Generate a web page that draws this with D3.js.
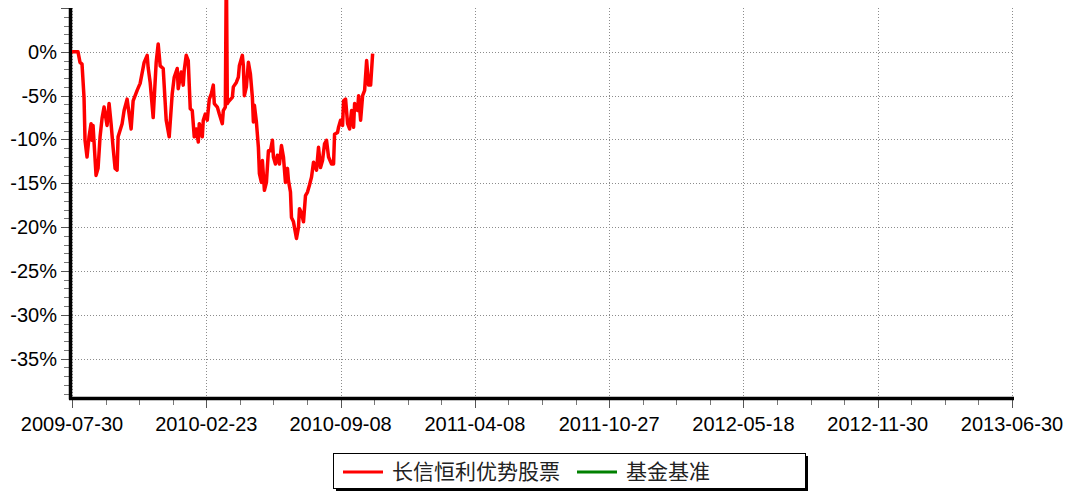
<!DOCTYPE html>
<html>
<head>
<meta charset="utf-8">
<script src="https://cdn.jsdelivr.net/npm/d3@7"></script>
<style>
  body { margin: 0; background: #fff; }
  svg { display: block; }
</style>
</head>
<body>
<script>
const width = 1070;
const height = 492;

// trading-day index since 2009-07-30
const dayIndex = [0, 6, 8, 10, 12, 13, 15, 17, 19, 20, 21, 24, 26, 28, 30, 32, 35, 37, 39, 41,
  43, 45, 46, 50, 52, 55, 57, 59, 61, 65, 68, 72, 75, 76, 78, 81, 84, 86, 88, 91,
  94, 97, 100, 102, 105, 106, 109, 111, 112, 114, 116, 118, 120, 122, 124, 126, 127, 130, 131, 133,
  135, 137, 139, 141, 142, 145, 147, 150, 151, 153, 154, 155, 156, 160, 161, 164, 166, 167, 170, 171,
  172, 174, 176, 178, 180, 181, 182, 184, 186, 187, 189, 190, 192, 194, 196, 198, 200, 201, 203, 205,
  207, 209, 211, 213, 215, 216, 218, 219, 221, 224, 226, 227, 229, 231, 233, 235, 237, 239, 241, 244,
  246, 248, 250, 252, 254, 256, 259, 261, 262, 265, 266, 268, 270, 271, 273, 275, 277, 279, 281, 282,
  285, 286, 288, 290, 292, 294, 296, 298, 300];

// cumulative return, %
const fundReturn = [0, 0, -1.2, -1.4, -5.2, -10.1, -12.0, -9.7, -8.2, -10.1, -8.4, -14.1, -13.3, -9.7, -7.6, -6.3, -8.4, -5.9, -8.2, -10.9,
  -13.3, -13.5, -9.7, -8.2, -6.7, -5.4, -7.1, -8.8, -5.6, -4.4, -3.6, -1.2, -0.4, -1.8, -3.5, -7.5, -1.2, 0.9, -1.6, -1.9,
  -7.8, -9.7, -4.8, -2.9, -1.9, -4.2, -2.3, -3.8, -2.1, -0.4, -1.0, -6.5, -6.7, -9.7, -8.8, -10.3, -8.2, -9.7, -7.8, -7.1,
  -7.8, -5.4, -4.8, -3.8, -5.9, -6.3, -7.1, -8.2, -6.7, -6.3, 10, -5.9, -5.7, -5.2, -4.0, -3.5, -2.9, -1.6, -0.4, -1.6,
  -5.0, -4.0, -1.2, -2.5, -5.2, -8.0, -6.1, -8.0, -10.9, -13.9, -14.9, -12.4, -15.8, -14.9, -11.3, -11.3, -10.1, -12.0, -12.8, -11.8,
  -12.8, -10.7, -12.0, -14.9, -13.3, -14.7, -16.0, -18.9, -19.4, -21.3, -20.0, -17.9, -18.4, -19.4, -16.4, -16.0, -15.2, -14.3, -12.6, -13.5,
  -10.9, -13.2, -12.4, -10.5, -10.1, -12.0, -12.8, -12.8, -9.4, -9.2, -8.6, -7.8, -8.4, -5.6, -5.4, -8.2, -8.8, -6.7, -8.6, -5.9,
  -6.7, -5.0, -7.8, -5.0, -4.4, -1.0, -3.8, -3.8, -0.2];

const xTickLabels = ["2009-07-30", "2010-02-23", "2010-09-08", "2011-04-08", "2011-10-27", "2012-05-18", "2012-11-30", "2013-06-30"];
const yTicks = [0, -5, -10, -15, -20, -25, -30, -35];
const seriesNames = ["长信恒利优势股票", "基金基准"];
const seriesColors = ["#ff0000", "#008000"];

const tickStep = 134;
const x = d3.scaleLinear().domain([0, tickStep * 7]).range([72, 1012]);
const y = d3.scaleLinear().domain([-39.5, 5]).range([398, 8]);

const svg = d3.select("body").append("svg")
  .attr("width", width)
  .attr("height", height)
  .style("font-family", "'Liberation Sans', Arial, sans-serif");

// grid
const grid = svg.append("g")
  .attr("stroke", "#8c8c8c")
  .attr("stroke-width", 1)
  .attr("stroke-dasharray", "1,2");

grid.selectAll("line.h")
  .data(yTicks)
  .join("line")
  .attr("class", "h")
  .attr("x1", x(0)).attr("x2", x(tickStep * 7))
  .attr("y1", d => Math.round(y(d)) + 0.5)
  .attr("y2", d => Math.round(y(d)) + 0.5);

grid.selectAll("line.v")
  .data(xTickLabels)
  .join("line")
  .attr("class", "v")
  .attr("x1", (d, i) => Math.round(x(i * tickStep)) + 0.5)
  .attr("x2", (d, i) => Math.round(x(i * tickStep)) + 0.5)
  .attr("y1", y(5)).attr("y2", y(-39.5));

// y axis
const yAxis = svg.append("g");
yAxis.selectAll("line.minor")
  .data(d3.range(-39, 6, 1).filter(v => v % 5 !== 0))
  .join("line")
  .attr("class", "minor")
  .attr("x1", 64).attr("x2", 69)
  .attr("y1", d => Math.round(y(d)) + 0.5)
  .attr("y2", d => Math.round(y(d)) + 0.5)
  .attr("stroke", "#777");
yAxis.selectAll("line.major")
  .data(yTicks.concat([5]))
  .join("line")
  .attr("class", "major")
  .attr("x1", 61).attr("x2", 69)
  .attr("y1", d => Math.round(y(d)) + 0.5)
  .attr("y2", d => Math.round(y(d)) + 0.5)
  .attr("stroke", "#555");
yAxis.selectAll("text")
  .data(yTicks)
  .join("text")
  .attr("x", 57)
  .attr("y", d => y(d))
  .attr("dy", "0.35em")
  .attr("text-anchor", "end")
  .attr("font-size", 20)
  .attr("fill", "#000")
  .text(d => d + "%");

// x axis
const xAxis = svg.append("g");
xAxis.selectAll("line.minor")
  .data(d3.range(0, 7 * 4).filter(i => i % 4 !== 0))
  .join("line")
  .attr("class", "minor")
  .attr("x1", d => Math.round(x(d * tickStep / 4)) + 0.5)
  .attr("x2", d => Math.round(x(d * tickStep / 4)) + 0.5)
  .attr("y1", 400).attr("y2", 405)
  .attr("stroke", "#777");
xAxis.selectAll("line.major")
  .data(xTickLabels)
  .join("line")
  .attr("class", "major")
  .attr("x1", (d, i) => Math.round(x(i * tickStep)) + 0.5)
  .attr("x2", (d, i) => Math.round(x(i * tickStep)) + 0.5)
  .attr("y1", 400).attr("y2", 408)
  .attr("stroke", "#555");
xAxis.selectAll("text")
  .data(xTickLabels)
  .join("text")
  .attr("x", (d, i) => x(i * tickStep))
  .attr("y", 431)
  .attr("text-anchor", "middle")
  .attr("font-size", 20)
  .attr("fill", "#000")
  .text(d => d);

// axis lines
svg.append("line")
  .attr("x1", 70.5).attr("x2", 70.5)
  .attr("y1", y(5)).attr("y2", 399.5)
  .attr("stroke", "#000").attr("stroke-width", 3.5);
svg.append("line")
  .attr("x1", 69).attr("x2", 1014)
  .attr("y1", 398.5).attr("y2", 398.5)
  .attr("stroke", "#000").attr("stroke-width", 3.5);

// fund line
const points = dayIndex.map((d, i) => [d, fundReturn[i]]);
svg.append("path")
  .datum(points)
  .attr("fill", "none")
  .attr("stroke", seriesColors[0])
  .attr("stroke-width", 3.5)
  .attr("stroke-linejoin", "round")
  .attr("d", d3.line().x(d => x(d[0])).y(d => y(d[1])));

// legend
const legend = svg.append("g");
legend.append("rect")
  .attr("x", 336).attr("y", 456)
  .attr("width", 472).attr("height", 35)
  .attr("fill", "#000");
legend.append("rect")
  .attr("x", 333.5).attr("y", 453.5)
  .attr("width", 472).attr("height", 35)
  .attr("fill", "#fff")
  .attr("stroke", "#000");

const legendX = [343, 577];
const legendItem = legend.selectAll("g.item")
  .data(seriesNames)
  .join("g")
  .attr("class", "item")
  .attr("transform", (d, i) => `translate(${legendX[i]},472)`);
legendItem.append("line")
  .attr("x1", 0).attr("x2", 40)
  .attr("stroke", (d, i) => seriesColors[i])
  .attr("stroke-width", 3);
legendItem.append("text")
  .attr("x", 49)
  .attr("dy", "0.35em")
  .attr("font-family", "'Noto Sans CJK SC', sans-serif")
  .attr("font-size", 21)
  .attr("fill", "#222")
  .text(d => d);
</script>
</body>
</html>
